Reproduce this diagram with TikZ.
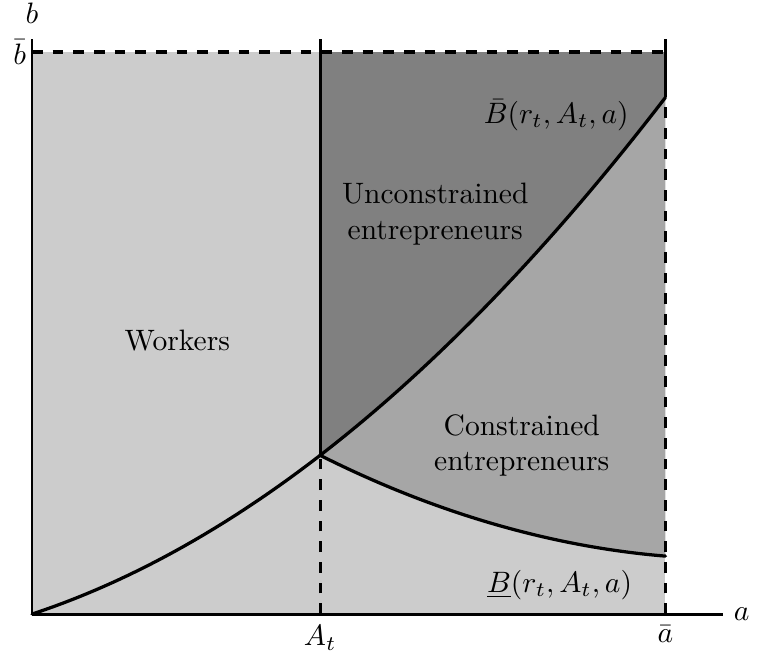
\documentclass[tikz,border=0pt]{standalone}
\usetikzlibrary{positioning}

\tikzset{
  declare function={ub(\x)=0.330*\x+0.0644*\x*\x;},
  workers/.style={fill=black!20},
  unconstr/.style={fill=black!50},
  constr/.style={fill=black!35},
  boundary/.style={line width=1.1pt, line cap=round},
  helper/.style={line width=1.1pt, dash pattern=on 3.6pt off 3.4pt},
}

\begin{document}
\begin{tikzpicture}[line width=1pt]
        \useasboundingbox (-0.381,-0.452) rectangle (8.63,7.31);

        % Eckpunkte
        \coordinate (O) at (0,0);
        \coordinate (J) at (3.43,1.89);
        \coordinate (At) at (3.43,0);
        \coordinate (abar) at (7.54,0);
        \coordinate (topAt) at (3.43,6.85);
        \coordinate (topabar) at (7.54,6.85);
        \coordinate (bbar) at (0,6.69);
        \coordinate (corner) at (7.54,6.69);
        \coordinate (hiend) at (7.54,6.15);
        \coordinate (loend) at (7.54,0.69);
        \coordinate (aend) at (8.22,0);
        \coordinate (bend) at (0,6.85);

        % Flaechen
        \fill[workers] (O) rectangle (corner);
        \fill[unconstr] (3.43,6.69) -- (J) -- plot[domain=3.43:7.54, samples=40] (\x,{ub(\x)}) -- (corner) -- cycle;
        \fill[constr] (J) -- plot[domain=3.43:7.54, samples=40] (\x,{ub(\x)}) -- (loend)
                .. controls (6.2,0.8) and (4.8,1.2) .. (J) -- cycle;

        % Kurven
        \draw[boundary] plot[domain=0:7.54, samples=60] (\x,{ub(\x)});
        \draw[boundary] (J) .. controls (4.8,1.2) and (6.2,0.8) .. (loend);

        % Hilfslinien
        \draw[helper] (bbar) -- (corner);
        \draw[helper] (At) -- (J);
        \draw[helper] (abar) -- (hiend);
        \draw (J) -- (topAt);
        \draw (hiend) -- (topabar);

        % Achsen
        \draw (O) -- (aend);
        \draw (O) -- (bend);

        % Achsenbeschriftung
        \node[right] at (aend) (alabel) {$a$};
        \node at (0,7.15) (blabel) {$b$};
        \node[left, inner sep=1.5pt] at (bbar) (bbarlabel) {$\bar b$};
        \node[below] at (At) (Atlabel) {$A_t$};
        \node[below] at (abar) (abarlabel) {$\bar a$};

        % Bereiche
        \node at (1.73,3.26) (work) {Workers};
        \node[align=center] at (4.80,4.76) (unc) {Unconstrained\\entrepreneurs};
        \node[align=center] at (5.83,2.01) (con) {Constrained\\entrepreneurs};
        \node at (6.24,5.94) (upper) {$\bar B(r_t,A_t,a)$};
        \node at (6.28,0.35) (lower) {$\underline{B}(r_t,A_t,a)$};

    \end{tikzpicture}
\end{document}
